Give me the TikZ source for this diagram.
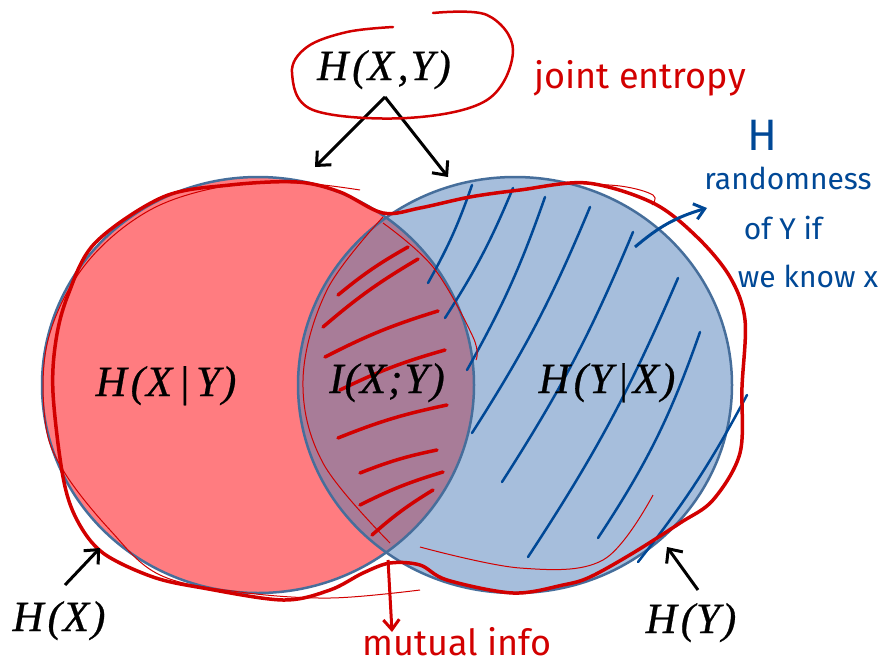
\documentclass[tikz,border=0pt]{standalone}
\usepackage{fontspec}
\setmainfont{Liberation Serif}[ItalicFeatures={FakeBold=0.6}]
\newfontfamily\hand{Fira Sans}
\usetikzlibrary{arrows.meta}
\definecolor{lred}{RGB}{255,124,128}
\definecolor{lblue}{RGB}{166,190,220}
\definecolor{lensc}{RGB}{168,124,152}
\definecolor{ring}{RGB}{70,110,155}
\definecolor{pen}{RGB}{210,0,0}
\definecolor{bpen}{RGB}{0,72,150}
\tikzset{
  lab/.style={font=\fontsize{43}{48}\selectfont\itshape, inner sep=0pt, anchor=base},
  blk/.style={draw=black, line width=3pt, -{Straight Barb[length=11pt,width=20pt,line width=3pt]}},
  redthick/.style={draw=pen, line width=3.5pt, line join=round},
  redthin/.style={draw=pen, line width=1pt},
  redhatch/.style={draw=pen, line width=3.5pt, line cap=round},
  bluehatch/.style={draw=bpen, line width=2.5pt, line cap=round},
  redtext/.style={text=pen, font=\hand\fontsize{36}{40}\selectfont, inner sep=0pt},
  bluetext/.style={text=bpen, font=\hand\fontsize{30}{34}\selectfont, inner sep=0pt},
}
\newcommand{\gp}{\kern4pt}
\begin{document}
\begin{tikzpicture}[x=1pt,y=-1pt]
\useasboundingbox (0,0) rectangle (880,664);
% circles
\fill[lblue] (515,385) ellipse [x radius=217, y radius=208];
\fill[lred] (258,385) ellipse [x radius=216, y radius=208];
\begin{scope}
\clip (258,385) ellipse [x radius=216, y radius=208];
\fill[lensc] (515,385) ellipse [x radius=217, y radius=208];
\end{scope}
\draw[ring, line width=2.5pt] (258,385) ellipse [x radius=216, y radius=208];
\draw[ring, line width=2.5pt] (515,385) ellipse [x radius=217, y radius=208];

% blue hatching
\draw[bluehatch] (428,283) to[bend right=5] (472,185);
\draw[bluehatch] (445,318) to[bend right=5] (513,188);
\draw[bluehatch] (467,370) to[bend right=5] (545,197);
\draw[bluehatch] (472,433) to[bend right=5] (590,207);
\draw[bluehatch] (502,482) to[bend right=5] (633,232);
\draw[bluehatch] (528,557) to[bend right=5] (678,278);
\draw[bluehatch] (598,538) to[bend right=7] (700,332);
\draw[bluehatch] (638,562) to[bend right=5] (747,395);

% red hatching in lens
\draw[redhatch] (338,295) to[bend left=5] (408,247);
\draw[redhatch] (323,327) to[bend left=5] (418,259);
\draw[redhatch] (325,357) to[bend left=5] (438,311);
\draw[redhatch] (340,390) to[bend left=5] (445,350);
\draw[redhatch] (338,438) to[bend left=5] (447,405);
\draw[redhatch] (360,473) to[bend left=5] (437,450);
\draw[redhatch] (360,505) to[bend left=5] (443,472);
\draw[redhatch] (372,535) to[bend left=5] (433,490);

% thin red strokes
\draw[redthin] plot[smooth, tension=0.6] coordinates {(383,217) (327,290) (303,380) (323,463) (390,543)};
\draw[redthin] plot[smooth, tension=0.6] coordinates {(383,223) (433,267) (473,337) (476,360)};
\draw[redthin] plot[smooth, tension=0.6] coordinates {(360,190) (300,183) (230,185) (150,210) (85,265) (48,340) (45,420) (63,470) (110,530) (160,575) (240,592) (330,598) (420,590)};
\draw[redthin] plot[smooth, tension=0.6] coordinates {(420,547) (520,568) (603,560) (653,495)};
\draw[redthin] plot[smooth, tension=0.6] coordinates {(560,183) (620,186) (653,195) (652,205)};

% red outline around union
\draw[redthick] plot[smooth cycle, tension=0.55] coordinates {
 (383,213) (420,208) (470,197) (520,190) (587,183) (653,203) (697,237)
 (730,277) (745,320) (742,387) (740,453) (713,500) (680,523) (633,553)
 (590,577) (563,585) (513,593) (447,580) (420,565) (390,563) (363,573)
 (330,590) (283,600) (203,588) (153,577) (103,553) (77,520) (63,477)
 (53,393) (56,340) (68,295) (95,243) (163,197) (230,185) (297,182) (340,192)};

% labels
\node[lab] (hxy) at (384,80) {H\gp(\kern1pt X\gp,\kern2pt Y\kern2pt)};
\node[lab] (hxgy) at (166,396) {H\gp(\kern1pt X\kern6pt|\kern6pt Y\kern2pt)};
\node[lab] (ixy) at (387,393) {I\kern1pt(\kern1pt X\kern2pt;\kern2pt Y\kern2pt)};
\node[lab] (hygx) at (607,393) {H\gp(\kern1pt Y\kern4pt|\kern4pt X\kern2pt)};
\node[lab] (hx) at (59,631) {H\gp(\kern1pt X\kern2pt)};
\node[lab] (hy) at (691,633) {H\gp(\kern1pt Y\kern2pt)};

% black arrows
\coordinate (apex) at (385,97);
\coordinate (tl) at (315,167);
\coordinate (tr) at (448,177);
\draw[blk] (apex) -- (tl);
\draw[blk] (apex) -- (tr);
\coordinate (hxs) at (65,585);
\coordinate (hxe) at (100,548);
\draw[blk] (hxs) -- (hxe);
\coordinate (hys) at (698,590);
\coordinate (hye) at (667,547);
\draw[blk] (hys) -- (hye);

% red loop around H(X,Y)
\draw[draw=pen, line width=2.5pt, line cap=round] plot[smooth, tension=0.6] coordinates {
 (393,27) (347,32) (307,47) (292,73) (313,110) (407,118) (487,100) (513,50) (487,15) (433,13)};

% handwriting
\node[redtext] (joint) at (640,78) {joint entropy};
\node[redtext] (mutual) at (457,642) {mutual info};
\coordinate (ms) at (388,560);
\coordinate (me) at (392,632);
\draw[draw=pen, line width=3pt, -{Straight Barb[length=10pt,width=16pt,line width=3pt]}] (ms) -- (me);

\node[bluetext, font=\hand\fontsize{44}{48}\selectfont] (bH) at (762,135) {H};
\node[bluetext] (brand) at (788,178) {randomness};
\node[bluetext] (bof) at (783,228) {of Y if};
\node[bluetext] (bwe) at (808,276) {we know x};
\coordinate (bas) at (635,247);
\coordinate (bae) at (707,208);
\draw[draw=bpen, line width=3pt, -{Straight Barb[length=10pt,width=16pt,line width=3pt]}] (bas) to[bend left=12] (bae);
\end{tikzpicture}
\end{document}
